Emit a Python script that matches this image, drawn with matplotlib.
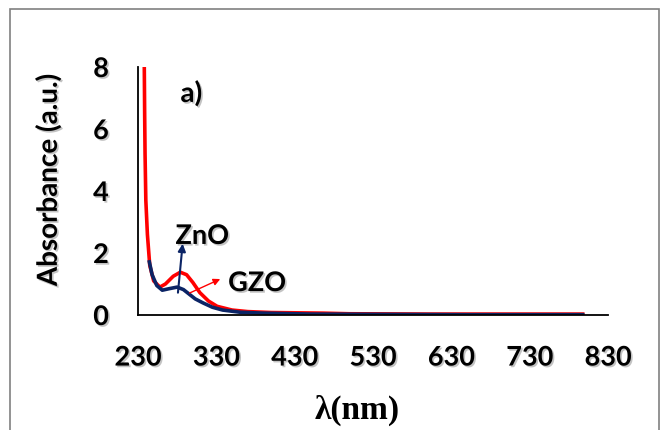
import matplotlib
matplotlib.use('Agg')
import matplotlib.pyplot as plt
import matplotlib.patheffects as pe
from matplotlib.patches import Rectangle

# GZO (red) and ZnO (blue) absorbance spectra
gzo_wl = [238, 238.5, 239, 240, 242, 245, 250, 258, 265, 275, 284, 292, 300, 309,
          320, 331, 350, 370, 400, 467, 500, 600, 700, 800]
gzo_abs = [8.1, 6.5, 5.2, 3.7, 2.6, 1.6, 1.1, 0.9, 1.0, 1.25, 1.38, 1.3, 1.05, 0.72,
           0.45, 0.28, 0.16, 0.11, 0.08, 0.06, 0.04, 0.03, 0.03, 0.03]

zno_wl = [244, 248, 254, 261, 270, 280, 288, 294, 303, 313, 325, 338, 360, 390,
          450, 550, 650, 800]
zno_abs = [1.77, 1.3, 0.95, 0.8, 0.85, 0.9, 0.82, 0.7, 0.52, 0.39, 0.25, 0.16, 0.09, 0.06,
           0.03, 0.02, 0.01, 0.01]

xticks = [230, 330, 430, 530, 630, 730, 830]
yticks = [0, 2, 4, 6, 8]

RED = '#ff0000'
NAVY = '#0b2465'
FONT = 'Lato'

shadow = [pe.withSimplePatchShadow(offset=(1.2, -1.2), shadow_rgbFace='#888888', alpha=0.5)]

fig = plt.figure(figsize=(6.62, 4.30), dpi=100)
ax = fig.add_axes([138/662, 1 - 315/430, 470/662, 248/430])

# outer frame of the figure panel
fig.patches.append(Rectangle((10/662, -0.2), 649/662, 1.2 - 9/430, transform=fig.transFigure,
                             fill=False, edgecolor='#808080', linewidth=1.2))

ax.plot(gzo_wl, gzo_abs, color=RED, linewidth=2.6, solid_capstyle='butt')
ax.plot(zno_wl, zno_abs, color=NAVY, linewidth=2.6, solid_capstyle='butt')

ax.set_xlim(230, 830)
ax.set_ylim(0, 8)
ax.set_xticks(xticks)
ax.set_yticks(yticks)
ax.tick_params(length=0)
ax.tick_params(axis='x', pad=22)
ax.tick_params(axis='y', pad=21)
for lab in ax.get_xticklabels() + ax.get_yticklabels():
    lab.set_fontfamily(FONT)
    lab.set_fontweight('bold')
    lab.set_fontsize(19.5)
    lab.set_path_effects(shadow)

for s in ['top', 'right']:
    ax.spines[s].set_visible(False)
for s in ['left', 'bottom']:
    ax.spines[s].set_color('black')
    ax.spines[s].set_linewidth(1.3)

ax.set_ylabel('Absorbance (a.u.)', fontfamily=FONT, fontweight='bold', fontsize=20,
              path_effects=shadow)
ax.yaxis.set_label_coords(-0.162, 0.545)
ax.set_xlabel('λ(nm)', fontfamily='Liberation Serif', fontweight='bold', fontsize=24)
ax.xaxis.set_label_coords(0.466, -0.32)
ax.xaxis.label.set_va('top')

ax.text(298, 7.15, 'a)', fontfamily=FONT, fontweight='bold', fontsize=20,
        ha='center', va='center', path_effects=shadow)

ax.text(312, 2.55, 'ZnO', fontfamily=FONT, fontweight='bold', fontsize=19.5,
        ha='center', va='center', path_effects=shadow)
ax.annotate('', xy=(287, 2.3), xytext=(281, 0.72),
            arrowprops=dict(arrowstyle='-|>', color=NAVY, lw=1.5, mutation_scale=11,
                            shrinkA=0, shrinkB=0))
ax.text(382, 1.03, 'GZO', fontfamily=FONT, fontweight='bold', fontsize=19.5,
        ha='center', va='center', path_effects=shadow)
ax.annotate('', xy=(335, 1.16), xytext=(296, 0.71),
            arrowprops=dict(arrowstyle='-|>', color=RED, lw=1.0, mutation_scale=10,
                            shrinkA=0, shrinkB=0))

fig.savefig('out.png', dpi=100)
